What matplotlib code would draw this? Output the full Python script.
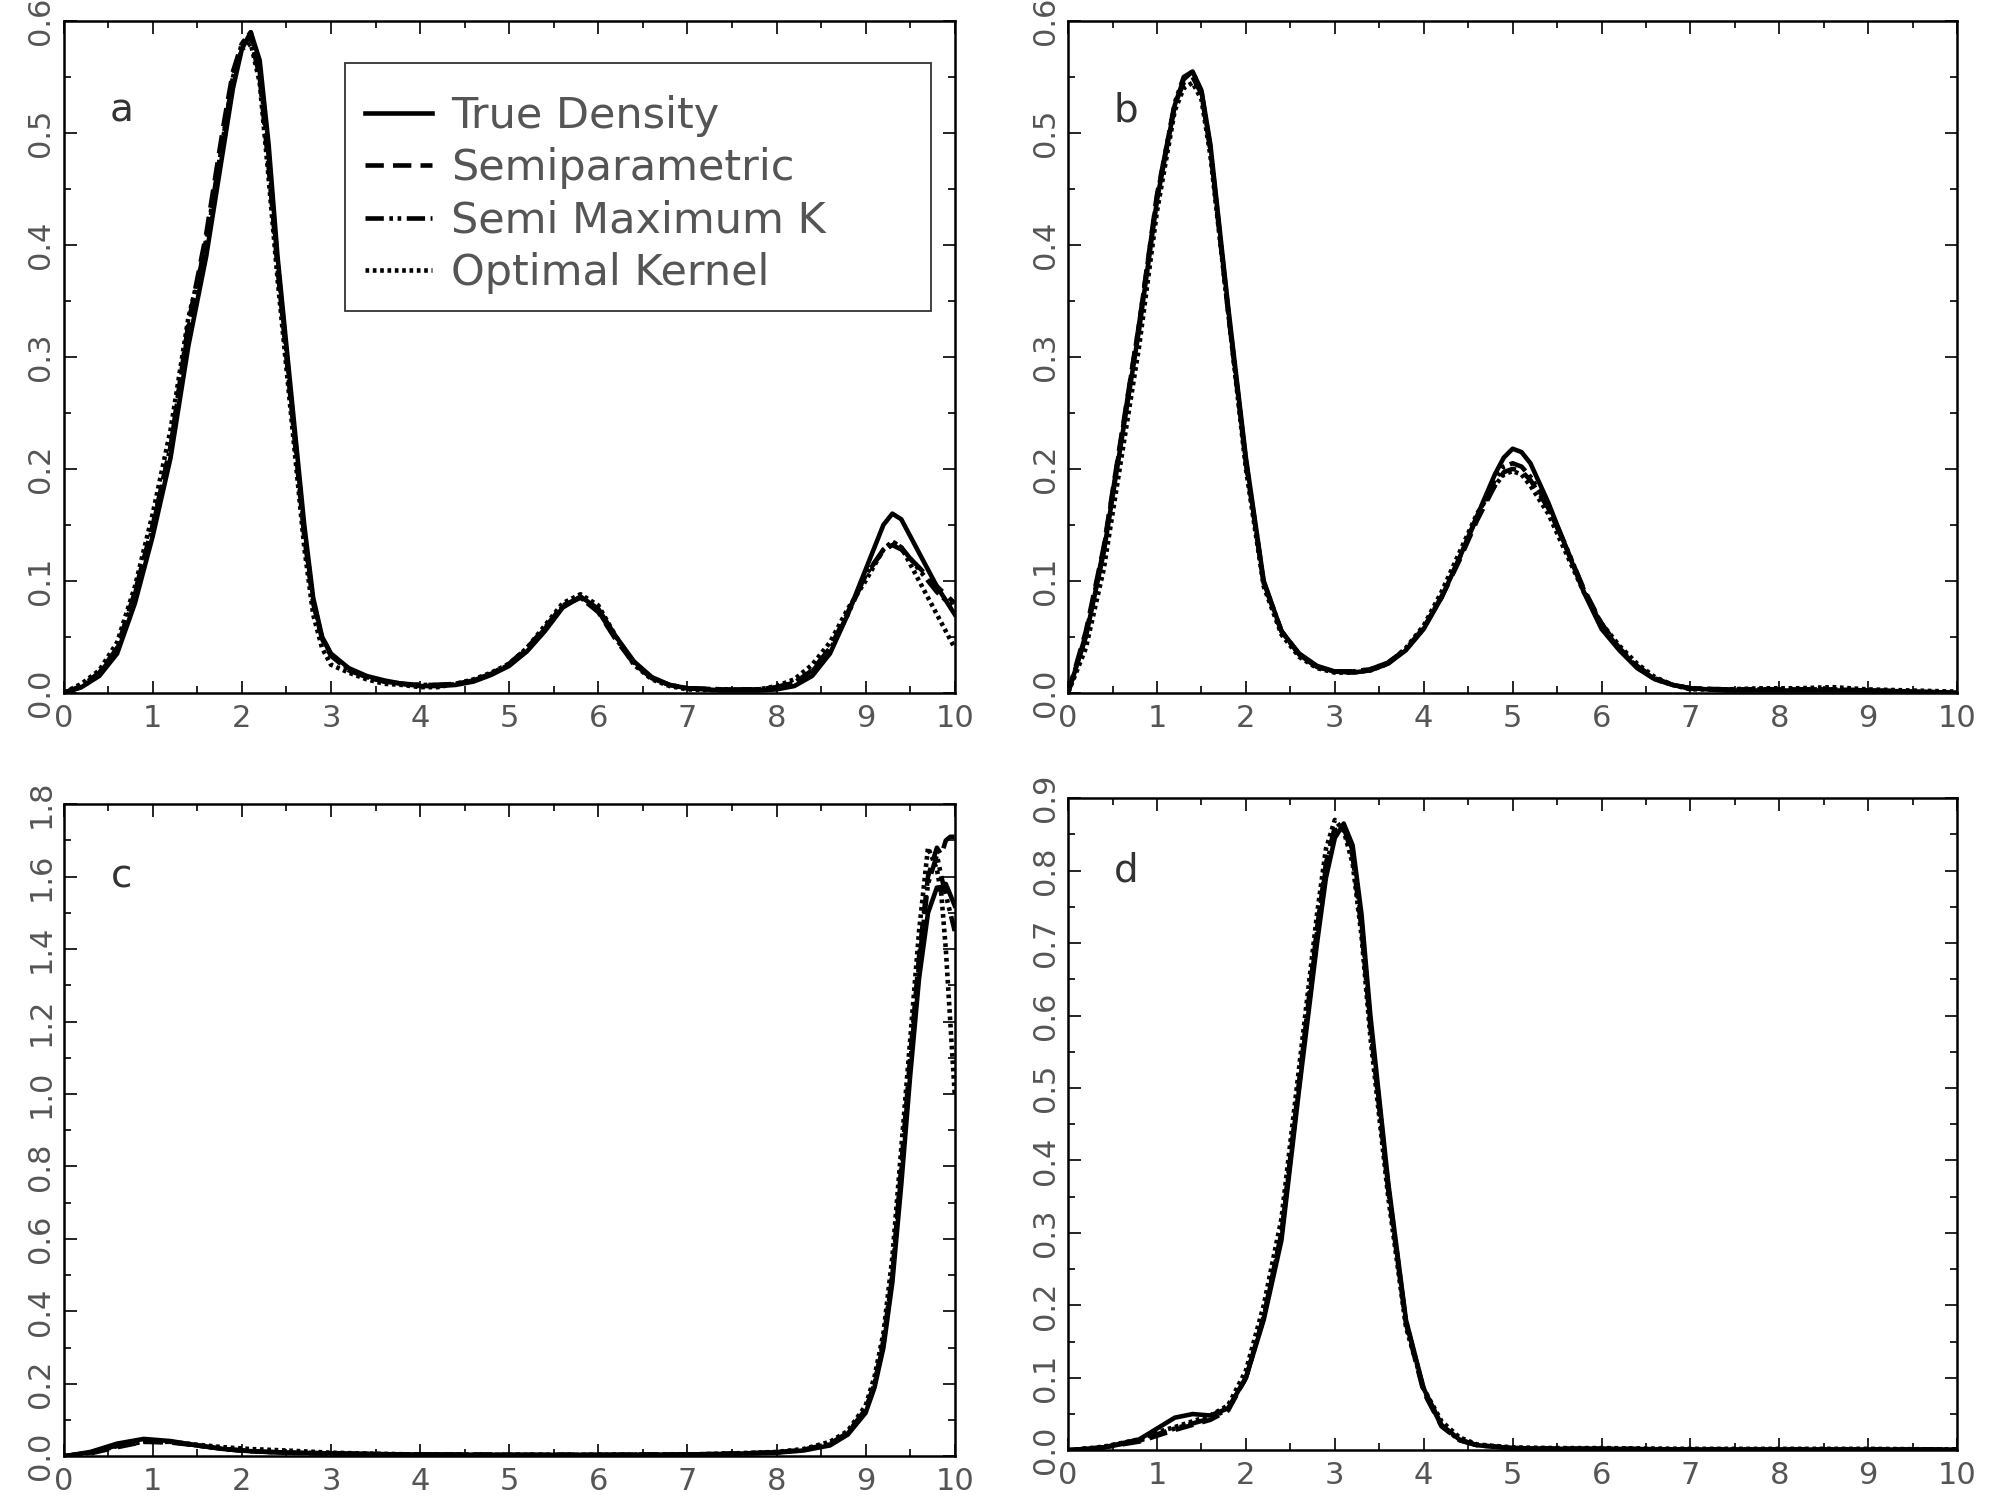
import numpy as np
import matplotlib
matplotlib.use('Agg')
import matplotlib.pyplot as plt
from matplotlib.patches import Rectangle
from matplotlib.ticker import MultipleLocator, FormatStrFormatter

# Series names and styles
labels = ['True Density', 'Semiparametric', 'Semi Maximum K', 'Optimal Kernel']

# Panel a
xa = [0, 0.2, 0.4, 0.6, 0.8, 1.0, 1.2, 1.4, 1.6, 1.8, 1.9, 2.0, 2.1, 2.2, 2.3, 2.4,
      2.5, 2.6, 2.7, 2.8, 2.9, 3.0, 3.2, 3.4, 3.6, 3.8, 4.0, 4.2, 4.4, 4.6, 4.8, 5.0,
      5.2, 5.4, 5.6, 5.8, 6.0, 6.2, 6.4, 6.6, 6.8, 7.0, 7.4, 7.8, 8.0, 8.2, 8.4, 8.6,
      8.8, 9.0, 9.2, 9.3, 9.4, 9.6, 9.8, 10.0]
true_a = [0, 0.005, 0.015, 0.035, 0.08, 0.14, 0.21, 0.31, 0.39, 0.49, 0.54, 0.575, 0.59, 0.565, 0.49, 0.39,
          0.31, 0.23, 0.15, 0.085, 0.05, 0.035, 0.022, 0.015, 0.011, 0.008, 0.006, 0.006, 0.007, 0.01, 0.016, 0.024,
          0.037, 0.055, 0.076, 0.086, 0.075, 0.05, 0.028, 0.014, 0.007, 0.004, 0.002, 0.002, 0.003, 0.006, 0.015, 0.035,
          0.07, 0.11, 0.15, 0.16, 0.155, 0.125, 0.095, 0.07]
semi_a = [0, 0.006, 0.018, 0.04, 0.09, 0.15, 0.22, 0.33, 0.41, 0.51, 0.555, 0.58, 0.585, 0.55, 0.47, 0.38,
          0.30, 0.22, 0.14, 0.08, 0.048, 0.033, 0.02, 0.014, 0.01, 0.008, 0.007, 0.007, 0.008, 0.011, 0.017, 0.026,
          0.04, 0.058, 0.078, 0.085, 0.072, 0.047, 0.026, 0.013, 0.007, 0.004, 0.003, 0.003, 0.005, 0.009, 0.02, 0.04,
          0.072, 0.105, 0.127, 0.132, 0.128, 0.112, 0.095, 0.08]
smk_a = [0, 0.005, 0.017, 0.038, 0.088, 0.148, 0.22, 0.325, 0.405, 0.5, 0.55, 0.58, 0.59, 0.555, 0.48, 0.385,
         0.305, 0.225, 0.145, 0.082, 0.05, 0.034, 0.021, 0.014, 0.01, 0.008, 0.007, 0.007, 0.008, 0.011, 0.017, 0.025,
         0.039, 0.057, 0.077, 0.085, 0.073, 0.048, 0.027, 0.013, 0.007, 0.004, 0.003, 0.003, 0.005, 0.009, 0.019, 0.038,
         0.07, 0.105, 0.128, 0.135, 0.13, 0.11, 0.09, 0.075]
opt_a = [0, 0.008, 0.02, 0.045, 0.095, 0.16, 0.235, 0.335, 0.4, 0.5, 0.55, 0.575, 0.58, 0.545, 0.46, 0.37,
         0.29, 0.21, 0.13, 0.07, 0.04, 0.025, 0.018, 0.012, 0.008, 0.007, 0.005, 0.005, 0.008, 0.012, 0.018, 0.026,
         0.04, 0.06, 0.08, 0.088, 0.078, 0.05, 0.025, 0.012, 0.006, 0.003, 0.002, 0.003, 0.006, 0.012, 0.025, 0.045,
         0.075, 0.1, 0.128, 0.135, 0.13, 0.1, 0.07, 0.04]

# Panel b
xb = [0, 0.2, 0.4, 0.6, 0.8, 1.0, 1.2, 1.3, 1.4, 1.5, 1.6, 1.8, 2.0, 2.2, 2.4, 2.6,
      2.8, 3.0, 3.2, 3.4, 3.6, 3.8, 4.0, 4.2, 4.4, 4.6, 4.8, 4.9, 5.0, 5.1, 5.2, 5.4,
      5.6, 5.8, 6.0, 6.2, 6.4, 6.6, 6.8, 7.0, 7.4, 7.8, 8.2, 8.6, 9.0, 9.5, 10.0]
true_b = [0, 0.05, 0.125, 0.225, 0.325, 0.44, 0.525, 0.548, 0.555, 0.538, 0.49, 0.345, 0.21, 0.1, 0.055, 0.035,
          0.024, 0.019, 0.018, 0.02, 0.026, 0.038, 0.057, 0.085, 0.12, 0.158, 0.195, 0.21, 0.218, 0.215, 0.205, 0.17,
          0.13, 0.09, 0.057, 0.038, 0.022, 0.012, 0.007, 0.004, 0.002, 0.002, 0.002, 0.002, 0.002, 0.001, 0.0]
semi_b = [0, 0.055, 0.13, 0.23, 0.33, 0.445, 0.525, 0.545, 0.55, 0.535, 0.485, 0.34, 0.205, 0.098, 0.055, 0.034,
          0.023, 0.019, 0.019, 0.021, 0.027, 0.039, 0.058, 0.085, 0.118, 0.154, 0.185, 0.197, 0.2, 0.198, 0.19, 0.165,
          0.13, 0.093, 0.062, 0.04, 0.024, 0.013, 0.007, 0.004, 0.003, 0.003, 0.003, 0.003, 0.002, 0.001, 0.0]
smk_b = [0, 0.052, 0.128, 0.228, 0.33, 0.443, 0.527, 0.55, 0.555, 0.537, 0.487, 0.342, 0.207, 0.099, 0.055, 0.034,
         0.023, 0.019, 0.019, 0.021, 0.027, 0.039, 0.058, 0.086, 0.12, 0.157, 0.19, 0.202, 0.205, 0.202, 0.193, 0.167,
         0.131, 0.092, 0.06, 0.039, 0.023, 0.012, 0.007, 0.004, 0.003, 0.003, 0.003, 0.003, 0.002, 0.001, 0.0]
opt_b = [0, 0.04, 0.11, 0.21, 0.31, 0.43, 0.52, 0.54, 0.545, 0.53, 0.48, 0.34, 0.2, 0.095, 0.052, 0.032,
         0.022, 0.018, 0.018, 0.02, 0.026, 0.04, 0.06, 0.09, 0.125, 0.16, 0.185, 0.195, 0.198, 0.195, 0.185, 0.16,
         0.125, 0.09, 0.062, 0.042, 0.026, 0.014, 0.007, 0.003, 0.003, 0.004, 0.004, 0.005, 0.003, 0.002, 0.001]

# Panel c
xc = [0, 0.3, 0.6, 0.9, 1.2, 1.5, 1.8, 2.1, 2.5, 3.0, 3.5, 4.0, 5.0, 6.0, 7.0, 7.5,
      8.0, 8.3, 8.6, 8.8, 9.0, 9.1, 9.2, 9.3, 9.4, 9.5, 9.6, 9.7, 9.8, 9.85, 9.9, 9.95, 10.0]
true_c = [0, 0.012, 0.035, 0.048, 0.042, 0.03, 0.02, 0.014, 0.01, 0.008, 0.006, 0.005, 0.004, 0.004, 0.005, 0.007,
          0.01, 0.016, 0.03, 0.06, 0.12, 0.19, 0.3, 0.48, 0.75, 1.05, 1.32, 1.5, 1.57, 1.56, 1.58, 1.55, 1.52]
semi_c = [0, 0.008, 0.025, 0.04, 0.038, 0.03, 0.02, 0.014, 0.01, 0.008, 0.006, 0.005, 0.004, 0.004, 0.005, 0.007,
          0.011, 0.018, 0.035, 0.065, 0.13, 0.2, 0.32, 0.5, 0.8, 1.1, 1.38, 1.6, 1.68, 1.66, 1.7, 1.71, 1.71]
smk_c = [0, 0.01, 0.03, 0.042, 0.04, 0.03, 0.02, 0.014, 0.01, 0.008, 0.006, 0.005, 0.004, 0.004, 0.005, 0.007,
         0.011, 0.017, 0.033, 0.063, 0.125, 0.2, 0.31, 0.5, 0.78, 1.08, 1.36, 1.58, 1.66, 1.6, 1.55, 1.5, 1.45]
opt_c = [0, 0.01, 0.028, 0.04, 0.04, 0.032, 0.025, 0.02, 0.016, 0.01, 0.007, 0.005, 0.004, 0.004, 0.005, 0.008,
         0.012, 0.02, 0.04, 0.07, 0.14, 0.22, 0.34, 0.55, 0.85, 1.15, 1.45, 1.68, 1.62, 1.55, 1.4, 1.2, 1.0]

# Panel d
xd = [0, 0.4, 0.8, 1.0, 1.2, 1.4, 1.6, 1.8, 2.0, 2.2, 2.4, 2.6, 2.8, 2.9, 3.0, 3.1,
      3.2, 3.3, 3.4, 3.6, 3.8, 4.0, 4.2, 4.4, 4.6, 5.0, 5.5, 6.0, 7.0, 8.0, 9.0, 10.0]
true_d = [0, 0.004, 0.015, 0.03, 0.045, 0.05, 0.048, 0.058, 0.1, 0.18, 0.29, 0.5, 0.7, 0.79, 0.845, 0.865,
          0.835, 0.74, 0.6, 0.37, 0.18, 0.085, 0.035, 0.015, 0.007, 0.003, 0.002, 0.002, 0.001, 0.001, 0.001, 0.001]
semi_d = [0, 0.004, 0.012, 0.02, 0.028, 0.035, 0.042, 0.055, 0.1, 0.185, 0.3, 0.51, 0.72, 0.81, 0.86, 0.86,
          0.82, 0.72, 0.585, 0.36, 0.175, 0.08, 0.033, 0.014, 0.007, 0.003, 0.002, 0.002, 0.001, 0.001, 0.001, 0.001]
smk_d = [0, 0.004, 0.013, 0.022, 0.03, 0.037, 0.044, 0.057, 0.1, 0.183, 0.298, 0.505, 0.715, 0.805, 0.855, 0.862,
         0.828, 0.73, 0.59, 0.365, 0.178, 0.083, 0.034, 0.014, 0.007, 0.003, 0.002, 0.002, 0.001, 0.001, 0.001, 0.001]
opt_d = [0, 0.005, 0.015, 0.025, 0.032, 0.04, 0.048, 0.062, 0.11, 0.2, 0.32, 0.53, 0.74, 0.83, 0.87, 0.855,
         0.81, 0.71, 0.57, 0.35, 0.17, 0.085, 0.04, 0.018, 0.008, 0.004, 0.003, 0.003, 0.002, 0.002, 0.002, 0.001]

styles = ['-', (0, (4, 2)), (0, (4, 1.2, 0.8, 1, 0.8, 1.2)), (0, (0.8, 0.8))]
text_col = '#555555'


def draw_panel(ax, x, series, ymax, ystep, letter, letter_y):
    for y, ls, lab in zip(series, styles, labels):
        ax.plot(x, y, color='k', linestyle=ls, linewidth=3.3, label=lab)
    ax.set_xlim(0, 10)
    ax.set_ylim(0, ymax)
    ax.xaxis.set_major_locator(MultipleLocator(1))
    ax.xaxis.set_minor_locator(MultipleLocator(0.5))
    ax.yaxis.set_major_locator(MultipleLocator(ystep))
    ax.yaxis.set_minor_locator(MultipleLocator(ystep / 2))
    ax.yaxis.set_major_formatter(FormatStrFormatter('%.1f'))
    ax.tick_params(which='both', direction='in', top=True, right=True,
                   labelsize=22, labelcolor=text_col, width=1.2)
    ax.tick_params(which='major', length=9)
    ax.tick_params(which='minor', length=5)
    ax.tick_params(axis='x', pad=8)
    ax.tick_params(axis='y', pad=6)
    for lab in ax.get_yticklabels():
        lab.set_rotation(90)
        lab.set_va('center')
    for sp in ax.spines.values():
        sp.set_linewidth(1.8)
    ax.text(0.65, letter_y, letter, fontsize=28, color='#333333', ha='center', va='center')


fig = plt.figure(figsize=(19.89, 15.06), dpi=100)
ax_a = fig.add_axes([0.032, 0.540, 0.448, 0.446])
ax_b = fig.add_axes([0.537, 0.540, 0.447, 0.446])
ax_c = fig.add_axes([0.032, 0.033, 0.448, 0.433])
ax_d = fig.add_axes([0.537, 0.037, 0.447, 0.433])

draw_panel(ax_a, xa, [true_a, semi_a, smk_a, opt_a], 0.6, 0.1, 'a', 0.52)
draw_panel(ax_b, xb, [true_b, semi_b, smk_b, opt_b], 0.6, 0.1, 'b', 0.52)
draw_panel(ax_c, xc, [true_c, semi_c, smk_c, opt_c], 1.8, 0.2, 'c', 1.6)
draw_panel(ax_d, xd, [true_d, semi_d, smk_d, opt_d], 0.9, 0.1, 'd', 0.8)

# legend box drawn separately, wider than its entries as in the original
ax_a.add_patch(Rectangle((0.316, 0.569), 0.657, 0.369, transform=ax_a.transAxes,
                         fill=False, edgecolor='#333333', linewidth=1.3, zorder=5))
leg = ax_a.legend(loc='upper left', bbox_to_anchor=(0.338, 0.89), borderaxespad=0,
                  fontsize=31, handlelength=1.55, handletextpad=0.45, labelspacing=0.24,
                  borderpad=0, frameon=False)
for t in leg.get_texts():
    t.set_color(text_col)

fig.savefig('out.png', dpi=100)
